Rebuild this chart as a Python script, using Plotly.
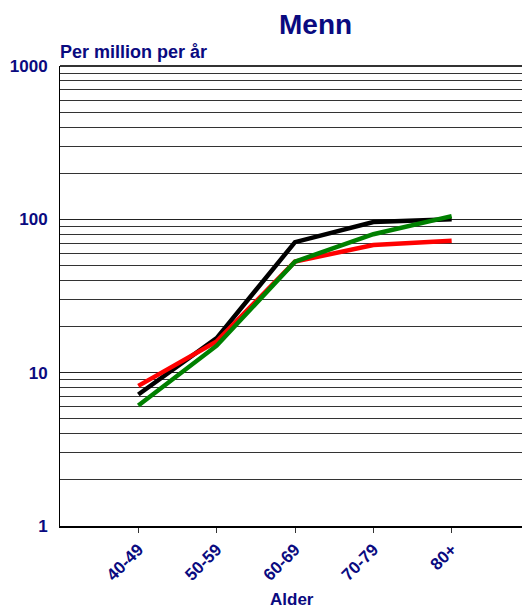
import plotly.graph_objects as go

categories = ["40-49", "50-59", "60-69", "70-79", "80+"]
black_vals = [7.2, 16.8, 71, 96, 100]
red_vals = [8.2, 16.0, 53, 68, 72.5]
green_vals = [6.1, 15.0, 53, 80, 105]
y_ticks = [1, 10, 100, 1000]
minor_ticks = [m * 10 ** e for e in range(0, 3) for m in range(2, 10)]

navy = "#0a0a80"
font_family = "Arial, Liberation Sans, sans-serif"

fig = go.Figure()
for vals, color in [(black_vals, "#000000"), (red_vals, "#ff0000"), (green_vals, "#008000")]:
    fig.add_trace(go.Scatter(x=categories, y=vals, mode="lines",
                             line=dict(color=color, width=4.5), showlegend=False))

fig.update_layout(
    width=530, height=605,
    margin=dict(l=52, r=8, t=58, b=87, autoexpand=False),
    plot_bgcolor="white", paper_bgcolor="white",
    font=dict(family=font_family, color=navy),
    annotations=[
        dict(text="<b>Menn</b>", x=(315 - 60) / 470, xref="paper", y=1 + (66 - 24) / 460, yref="paper",
             yanchor="middle", showarrow=False, font=dict(size=28, color=navy)),
        dict(text="<b>Per million per år</b>", x=-0.004, xref="paper", y=1.004, yref="paper",
             xanchor="left", yanchor="bottom", showarrow=False, font=dict(size=18, color=navy)),
        dict(text="<b>Alder</b>", x=(292 - 60) / 470, xref="paper", y=-(599 - 526) / 460, yref="paper",
             yanchor="middle", showarrow=False, font=dict(size=17, color=navy)),
    ],
)

fig.update_xaxes(
    type="category", range=[-1, 5], automargin=False,
    showline=True, linecolor="black", linewidth=2,
    ticks="outside", ticklen=5, tickcolor="#333333", tickwidth=1,
    tickangle=-45, tickfont=dict(size=17, color=navy, family=font_family, weight="bold"),
    showgrid=False,
)
fig.update_yaxes(
    type="log", range=[0, 3], automargin=False,
    tickvals=y_ticks, ticktext=[str(v) for v in y_ticks],
    tickfont=dict(size=17, color=navy, family=font_family, weight="bold"),
    showline=True, linecolor="black", linewidth=1,
    showgrid=True, gridcolor="#222222", gridwidth=1,
    ticks="", ticklabelstandoff=8,
    minor=dict(tickvals=minor_ticks, showgrid=True, gridcolor="#333333", gridwidth=1, ticks=""),
    zeroline=False,
)
fig.add_shape(type="line", xref="paper", yref="paper", x0=0, x1=1, y0=1, y1=1,
              line=dict(color="#333333", width=2))

fig.write_html("out.html")
